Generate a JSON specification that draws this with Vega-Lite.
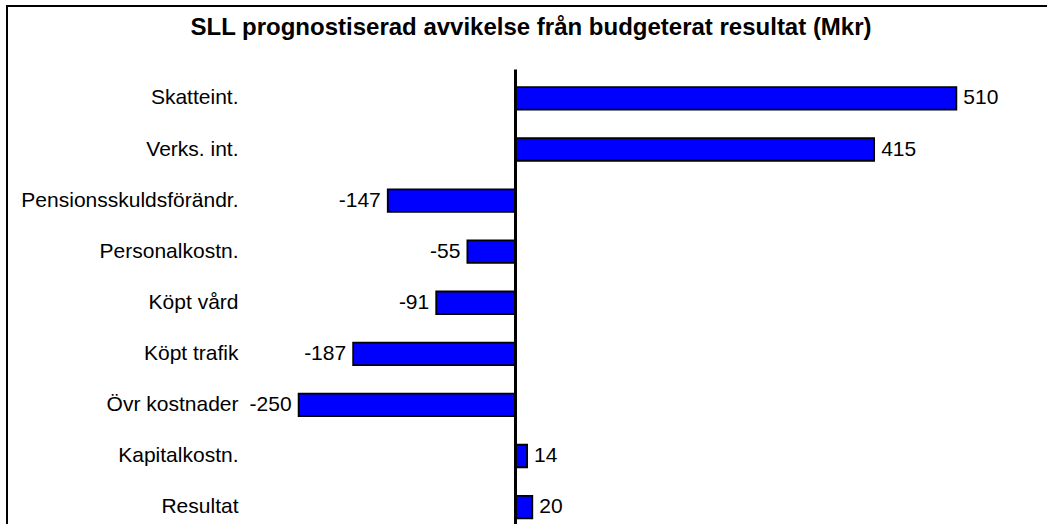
{
  "$schema": "https://vega.github.io/schema/vega-lite/v6.json",
  "width": 1048,
  "height": 540,
  "autosize": {"type": "none"},
  "padding": {"left": 7, "top": 6, "right": 0, "bottom": 0},
  "background": "white",
  "title": {
    "text": "SLL prognostiserad avvikelse från budgeterat resultat (Mkr)",
    "anchor": "middle",
    "frame": "group",
    "font": "Liberation Sans",
    "fontSize": 24,
    "fontWeight": "bold",
    "color": "black",
    "baseline": "alphabetic",
    "offset": -53
  },
  "data": {
    "values": [
      {"post": "Skatteint.", "value": 510},
      {"post": "Verks. int.", "value": 415},
      {"post": "Pensionsskuldsförändr.", "value": -147},
      {"post": "Personalkostn.", "value": -55},
      {"post": "Köpt vård", "value": -91},
      {"post": "Köpt trafik", "value": -187},
      {"post": "Övr kostnader", "value": -250},
      {"post": "Kapitalkostn.", "value": 14},
      {"post": "Resultat", "value": 20}
    ]
  },
  "encoding": {
    "y": {
      "field": "post",
      "type": "nominal",
      "sort": null,
      "scale": {"range": [63, 530.5], "paddingInner": 0.56, "paddingOuter": 0.356},
      "axis": {
        "title": null,
        "orient": "left",
        "offset": -508,
        "domain": true,
        "domainColor": "black",
        "domainWidth": 3,
        "ticks": false,
        "tickSize": 0,
        "grid": false,
        "labelPadding": 277,
        "labelLimit": 400,
        "labelFont": "Liberation Sans",
        "labelFontSize": 21,
        "labelColor": "black",
        "labelAlign": "right",
        "zindex": 1
      }
    },
    "x": {
      "field": "value",
      "type": "quantitative",
      "scale": {"domain": [-587, 624], "nice": false, "zero": false},
      "axis": null
    }
  },
  "layer": [
    {
      "mark": {"type": "bar", "fill": "#0000FF", "stroke": "black", "strokeWidth": 1.8}
    },
    {
      "transform": [{"filter": "datum.value >= 0"}],
      "mark": {"type": "text", "align": "left", "baseline": "middle", "dx": 7, "font": "Liberation Sans", "fontSize": 21, "color": "black"},
      "encoding": {"text": {"field": "value", "type": "nominal"}}
    },
    {
      "transform": [{"filter": "datum.value < 0"}],
      "mark": {"type": "text", "align": "right", "baseline": "middle", "dx": -7, "font": "Liberation Sans", "fontSize": 21, "color": "black"},
      "encoding": {"text": {"field": "value", "type": "nominal"}}
    }
  ],
  "config": {
    "view": {"stroke": "black", "strokeWidth": 2}
  }
}
